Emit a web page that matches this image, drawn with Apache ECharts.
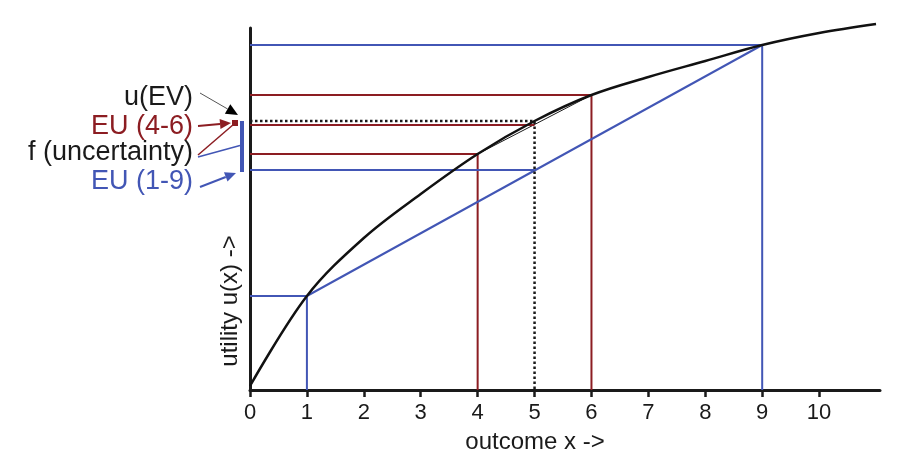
<!DOCTYPE html>
<html lang="en">

<head>
    <meta charset="UTF-8">
    <title>utility curve</title>
    <style>
        body {
            margin: 0px;
            padding: 0px;
            background: #ffffff;
        }

        #utility {
            width: 905px;
            height: 476px;
        }
    </style>
</head>

<body>
    <div id="utility"></div>
    <script src="https://cdn.jsdelivr.net/npm/echarts@6/dist/echarts.min.js"></script>
    <script>
        // values (utility in arbitrary units)
        var xTicks = [0, 1, 2, 3, 4, 5, 6, 7, 8, 9, 10];
        var curveX = [0, 1, 2, 3, 4, 5, 6, 7, 8, 9, 10, 11];
        var curveU = [4, 94, 152, 196, 236, 269, 295, 313, 329, 345, 357, 366];
        var lotteryRed = [4, 6];    // EU (4-6)
        var lotteryBlue = [1, 9];   // EU (1-9)
        var evX = 5;
        var eu46 = 265;
        var eu19 = 220;

        var BLUE = '#4256b5';
        var RED = '#8c1d22';
        var INK = '#1a1a1a';
        var FONT = 'Liberation Sans, Arial, sans-serif';

        function uAt(x) {
            return curveU[curveX.indexOf(x)];
        }

        function seg(points, color, width, type, z) {
            return {
                type: 'line',
                data: points,
                symbol: 'none',
                silent: true,
                clip: false,
                z: z || 2,
                lineStyle: { color: color, width: width, type: type || 'solid' }
            };
        }

        var series = [];
        // drop lines from the curve to both axes
        lotteryBlue.forEach(function (x) {
            series.push(seg([[0, uAt(x)], [x, uAt(x)], [x, 0]], BLUE, 2));
        });
        lotteryRed.forEach(function (x) {
            series.push(seg([[0, uAt(x)], [x, uAt(x)], [x, 0]], RED, 2));
        });
        // chords between the two outcomes
        series.push(seg([[lotteryBlue[0], uAt(lotteryBlue[0])], [lotteryBlue[1], uAt(lotteryBlue[1])]], BLUE, 2));
        series.push(seg([[lotteryRed[0], uAt(lotteryRed[0])], [lotteryRed[1], uAt(lotteryRed[1])]], INK, 1));
        // expected utilities
        series.push(seg([[0, eu19], [evX, eu19]], BLUE, 2));
        series.push(seg([[0, eu46], [evX, eu46]], RED, 2));
        // u(EV)
        series.push(seg([[0, uAt(evX)], [evX, uAt(evX)], [evX, 0]], INK, 2.5, [2.5, 2.5]));
        // utility curve on top
        series.push({
            type: 'line',
            data: curveX.map(function (x, i) { return [x, curveU[i]]; }),
            smooth: 0.35,
            symbol: 'none',
            clip: false,
            z: 5,
            lineStyle: { color: '#111111', width: 2.5 }
        });

        var dom = document.getElementById('utility');
        var myChart = echarts.init(dom);

        var option = {
            animation: false,
            grid: { left: 250, right: 25, top: 28, bottom: 86 },
            xAxis: {
                type: 'value',
                min: 0,
                max: 11.07,
                interval: 1,
                name: 'outcome x ->',
                nameLocation: 'middle',
                nameGap: 40,
                nameTextStyle: { fontFamily: FONT, fontSize: 24, color: INK, padding: [0, 60, 0, 0] },
                axisLine: { lineStyle: { color: INK, width: 3 } },
                axisTick: { customValues: xTicks, length: 7, lineStyle: { color: INK, width: 2.5 } },
                axisLabel: { customValues: xTicks, margin: 12, fontFamily: FONT, fontSize: 22, color: INK },
                splitLine: { show: false }
            },
            yAxis: {
                type: 'value',
                min: 0,
                max: 362,
                name: 'utility u(x) ->',
                nameLocation: 'middle',
                nameRotate: 90,
                nameGap: 8,
                nameTextStyle: { fontFamily: FONT, fontSize: 24, color: INK, padding: [0, 184, 0, 0] },
                axisLine: { show: true, lineStyle: { color: INK, width: 3 } },
                axisTick: { show: false },
                axisLabel: { show: false },
                splitLine: { show: false }
            },
            series: series
        };
        myChart.setOption(option);

        // left-hand annotations, anchored to the utility levels
        function px(u) {
            return myChart.convertToPixel({ gridIndex: 0 }, [0, u])[1];
        }

        function arrow(x1, y1, x2, y2, lineColor, headColor, width, head) {
            var dx = x2 - x1, dy = y2 - y1;
            var len = Math.sqrt(dx * dx + dy * dy);
            var ux = dx / len, uy = dy / len;
            var bx = x2 - ux * head, by = y2 - uy * head;
            var w = head * 0.45;
            return [{
                type: 'line',
                shape: { x1: x1, y1: y1, x2: bx, y2: by },
                style: { stroke: lineColor, lineWidth: width }
            }, {
                type: 'polygon',
                shape: { points: [[x2, y2], [bx - uy * w, by + ux * w], [bx + uy * w, by - ux * w]] },
                style: { fill: headColor }
            }];
        }

        function label(text, y, color) {
            return {
                type: 'text',
                x: 193,
                y: y,
                style: { text: text, fill: color, font: '27px ' + FONT, align: 'right', verticalAlign: 'middle' }
            };
        }

        var yEV = px(uAt(evX));
        var y46 = px(eu46);
        var y19 = px(eu19);

        var graphic = [
            label('u(EV)', 98, INK),
            label('EU (4-6)', 127, RED),
            label('f (uncertainty)', 153, INK),
            label('EU (1-9)', 182, BLUE),
            {
                type: 'rect',
                shape: { x: 240, y: yEV, width: 4, height: y19 + 2 - yEV },
                style: { fill: BLUE }
            },
            {
                type: 'rect',
                shape: { x: 232, y: y46 - 5, width: 6, height: 6 },
                style: { fill: RED }
            },
            {
                type: 'line',
                shape: { x1: 198, y1: 155, x2: 234, y2: y46 - 1 },
                style: { stroke: RED, lineWidth: 1.5 }
            },
            {
                type: 'line',
                shape: { x1: 198, y1: 157, x2: 240, y2: (yEV + y19) / 2 },
                style: { stroke: BLUE, lineWidth: 1.5 }
            }
        ];
        graphic = graphic
            .concat(arrow(200, 93, 238, yEV - 6, '#555555', '#000000', 1, 12))
            .concat(arrow(198, 126, 231, y46 - 2, RED, RED, 2, 11))
            .concat(arrow(200, 187, 236, y19 + 3, BLUE, BLUE, 2, 11));

        myChart.setOption({ graphic: graphic });
    </script>
</body>

</html>
